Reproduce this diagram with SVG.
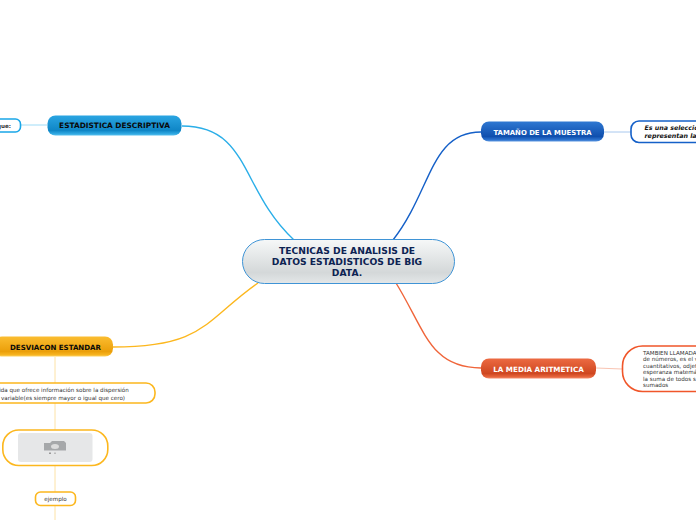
<svg xmlns="http://www.w3.org/2000/svg" width="696" height="520" viewBox="0 0 696 520">
<style>
text{font-family:"DejaVu Sans",Verdana,sans-serif;text-anchor:middle}
.m{font-weight:700}
.s{font-size:5.6px;fill:#333}
.t{text-anchor:start}
.i{font-size:6.3px;font-weight:700;font-style:italic;fill:#111;text-anchor:start}
.sub{fill:#fff;stroke-width:1.6}
</style>
<defs>
<linearGradient id="gc" x1="0" y1="0" x2="0" y2="1"><stop offset="0" stop-color="#f6f8f8"/><stop offset=".75" stop-color="#d4d8d9"/><stop offset="1" stop-color="#e4e7e8"/></linearGradient>
<linearGradient id="gb" x1="0" y1="0" x2="0" y2="1"><stop offset="0" stop-color="#2aa5e2"/><stop offset=".75" stop-color="#0f86c6"/><stop offset=".9" stop-color="#2ea6e0"/><stop offset="1" stop-color="#55c0ee"/></linearGradient>
<linearGradient id="gd" x1="0" y1="0" x2="0" y2="1"><stop offset="0" stop-color="#2f78d2"/><stop offset=".75" stop-color="#0f4fae"/><stop offset=".9" stop-color="#2a70cc"/><stop offset="1" stop-color="#5a95e0"/></linearGradient>
<linearGradient id="gr" x1="0" y1="0" x2="0" y2="1"><stop offset="0" stop-color="#ec6a42"/><stop offset=".75" stop-color="#cf4720"/><stop offset=".9" stop-color="#e4623a"/><stop offset="1" stop-color="#f48a68"/></linearGradient>
<linearGradient id="gy" x1="0" y1="0" x2="0" y2="1"><stop offset="0" stop-color="#fbbd30"/><stop offset=".75" stop-color="#eb9f0a"/><stop offset=".9" stop-color="#f6b21e"/><stop offset="1" stop-color="#fdd05a"/></linearGradient>
</defs>
<g id="connectors" fill="none">
<path d="M182 126C250 126 240 190 294 240" stroke="#2aaee8" stroke-width="1.4"/>
<path d="M393 240C432 190 430 132 481 132" stroke="#1560c8" stroke-width="1.4"/>
<path d="M396 283C425 330 430 368 481 368" stroke="#f0653a" stroke-width="1.4"/>
<path d="M258 283C205 320 205 347 113 347" stroke="#fcb71e" stroke-width="1.4"/>
<path d="M21 125H47" stroke="#9fdcf7" stroke-width="1"/>
<path d="M604 132L631 132" stroke="#a8c8ee" stroke-width="1"/>
<path d="M596 368L622 369" stroke="#f9c4b2" stroke-width="1"/>
<path d="M55 357V383M55 403V430M55 466V492M55 506V520" stroke="#fde2a6" stroke-width="1"/>
</g>
<g id="center"><rect x="242.500" y="239.500" width="212" height="44" rx="22" fill="url(#gc)" stroke="#3f94d6" stroke-width="1"/>
<g fill="#0d2352" style="font-size:9.200px;font-weight:700"><text x="347" y="254">TECNICAS DE ANALISIS DE</text><text x="347" y="265">DATOS ESTADISTICOS DE BIG</text><text x="347" y="276">DATA.</text></g></g>
<g id="n-descriptiva"><rect x="47.500" y="115.500" width="134" height="20" rx="8" fill="url(#gb)"/><text class="m" x="114.500" y="128" fill="#0a0a0a" style="font-size:7.400px">ESTADISTICA DESCRIPTIVA</text></g>
<g id="n-que"><rect x="-30" y="119" width="50.500" height="13" rx="5" class="sub" stroke="#1aa7e8"/><text class="s" x="4" y="127.500" style="font-weight:700">que:</text></g>
<g id="n-tamano"><rect x="481" y="121.500" width="123" height="20" rx="8" fill="url(#gd)"/><text class="m" x="542.500" y="134.500" fill="#fff" style="font-size:6.900px">TAMAÑO DE LA MUESTRA</text></g>
<g id="n-seleccion"><rect x="631" y="121" width="90" height="21.500" rx="8" class="sub" stroke="#1560c8"/><text class="i" x="644.500" y="130">Es una selección</text><text class="i" x="644.500" y="138">representan la p</text></g>
<g id="n-media"><rect x="481" y="358.500" width="115" height="20" rx="8" fill="url(#gr)"/><text class="m" x="538.500" y="371.500" fill="#fff" style="font-size:7.200px">LA MEDIA ARITMETICA</text></g>
<g id="n-tambien"><rect x="622.500" y="346" width="120" height="45.500" rx="20" class="sub" stroke="#f0562a"/>
<g class="s"><text class="t" x="643" y="354.500">TAMBIEN LLAMADA</text><text class="t" x="643" y="361">de números, es el v</text><text class="t" x="643" y="367.500">cuantitativos, odjet</text><text class="t" x="643" y="374">esperanza matemát</text><text class="t" x="643" y="380.500">la suma de todos s</text><text class="t" x="643" y="387">sumados</text></g></g>
<g id="n-desviacion"><rect x="-6" y="336.500" width="119" height="20" rx="8" fill="url(#gy)"/><text class="m" x="55.500" y="350" fill="#0a0a0a" style="font-size:7.050px">DESVIACON ESTANDAR</text></g>
<g id="n-medida"><rect x="-50" y="383" width="205" height="20" rx="9" class="sub" stroke="#fcb71e"/><text class="s" x="64" y="392">ida que ofrece información sobre la dispersión</text><text class="s" x="63" y="399.500">variable(es siempre mayor o igual que cero)</text></g>
<g id="n-imagen"><rect x="2.800" y="430" width="105" height="35.500" rx="16" class="sub" stroke="#fcb71e"/><rect x="18" y="433" width="74.500" height="29" rx="3" fill="#e6e7e8"/><path d="M44 443h6l2-2h12l2 2v7.500h-22z" fill="#a6a8aa"/><ellipse cx="55" cy="446.500" rx="4" ry="2.500" fill="#dcdcdc"/><rect x="49" y="452.500" width="2" height="1.500" fill="#999"/><rect x="54" y="452.500" width="2" height="1.500" fill="#bbb"/></g>
<g id="n-ejemplo"><rect x="35.500" y="492" width="40" height="13.500" rx="5" class="sub" stroke="#fcb71e"/><text class="s" x="55.500" y="501">ejemplo</text></g>
</svg>
